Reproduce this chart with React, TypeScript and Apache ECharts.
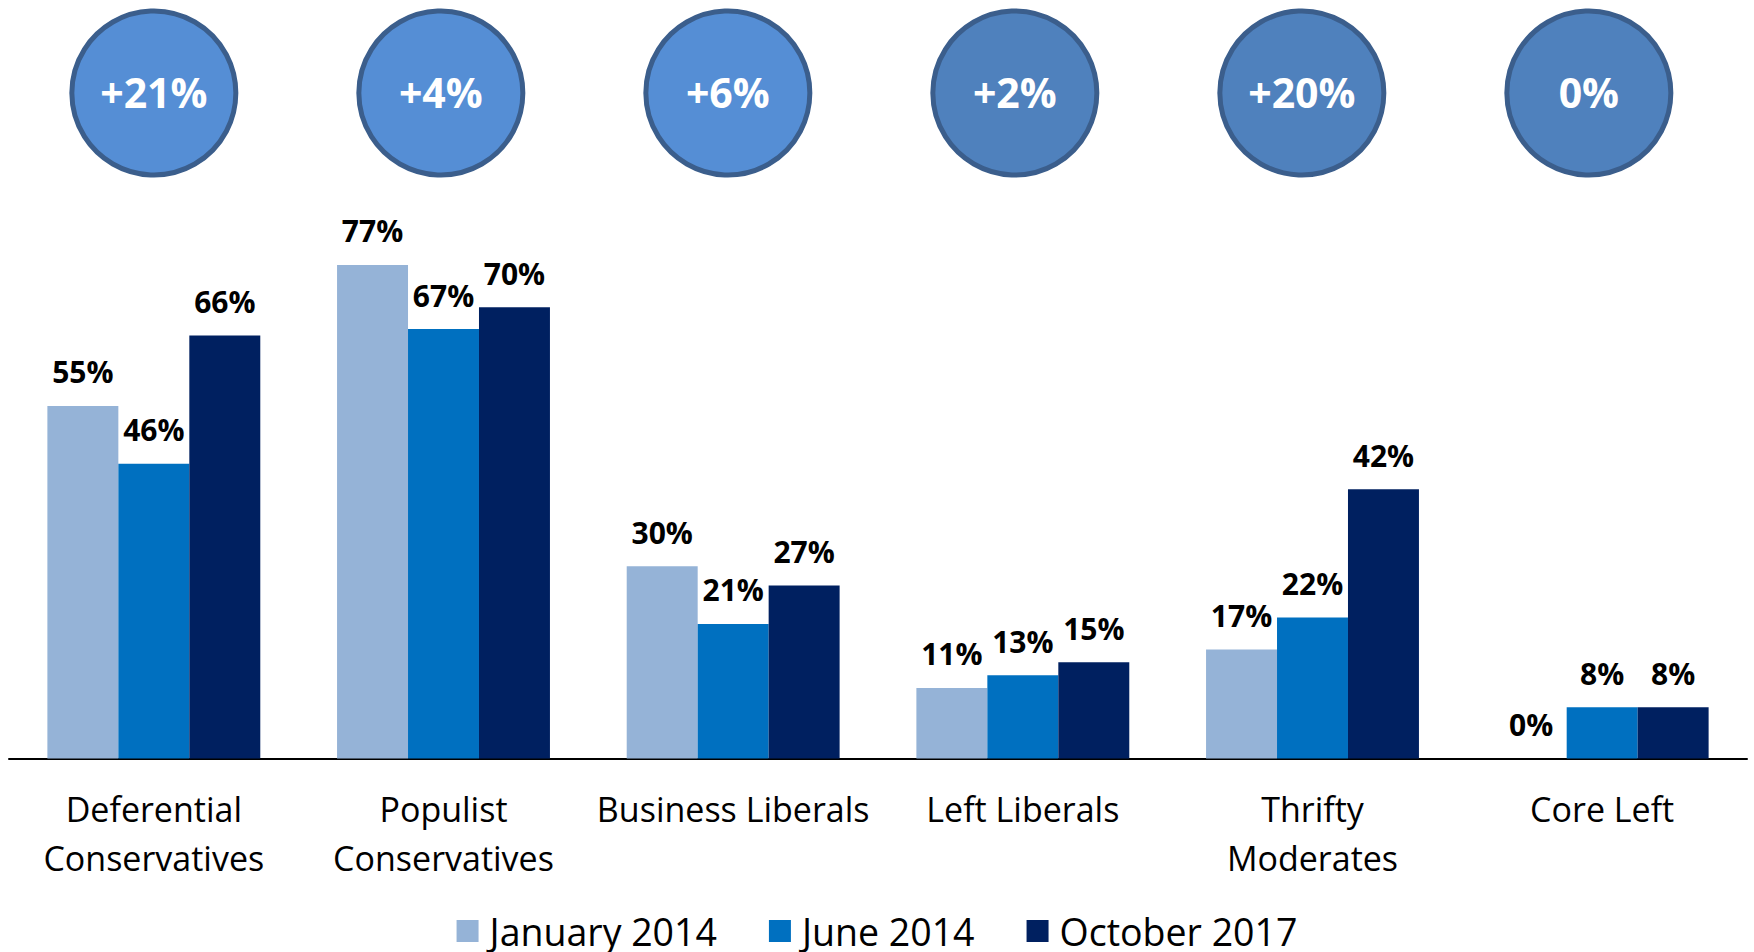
import React, { useEffect, useRef } from "react";
import * as echarts from "echarts";

const categories = [
  "Deferential\nConservatives",
  "Populist\nConservatives",
  "Business Liberals",
  "Left Liberals",
  "Thrifty\nModerates",
  "Core Left",
];
const seriesNames = ["January 2014", "June 2014", "October 2017"];
const jan2014 = [55, 77, 30, 11, 17, 0];
const jun2014 = [46, 67, 21, 13, 22, 8];
const oct2017 = [66, 70.4, 27, 15, 42, 8];
const changes = ["+21%", "+4%", "+6%", "+2%", "+20%", "0%"];
const seriesColors = ["#95B3D7", "#0070C0", "#002060"];
const circleFills = ["#558ED5", "#558ED5", "#558ED5", "#4F81BD", "#4F81BD", "#4F81BD"];

const FONT = "'Open Sans', 'DejaVu Sans', sans-serif";
const CIRCLE_SPACING = 287;

export default function App() {
  const ref = useRef<HTMLDivElement>(null);
  useEffect(() => {
    if (!ref.current) return;
    const chart = echarts.init(ref.current, undefined, { renderer: "svg" });
    const values = [jan2014, jun2014, oct2017];
    chart.setOption({
      animation: false,
      backgroundColor: "#ffffff",
      textStyle: { fontFamily: FONT },
      grid: { left: 9, right: 7, top: 117.5, bottom: 193.5, containLabel: false },
      legend: {
        data: seriesNames,
        left: "center",
        top: 905,
        itemWidth: 22,
        itemHeight: 22,
        itemGap: 52,
        icon: "rect",
        formatter: (name: string) => `{t|${name}}`,
        textStyle: {
          fontFamily: FONT,
          fontSize: 37.5,
          color: "#000",
          lineHeight: 42,
          rich: {
            t: { fontFamily: FONT, fontSize: 37.5, color: "#000", lineHeight: 42, padding: [0, 0, 0, 6] },
          },
        },
      },
      xAxis: {
        type: "category",
        data: categories,
        axisLine: { show: true, lineStyle: { color: "#000", width: 2 } },
        axisTick: { show: false },
        axisLabel: {
          interval: 0,
          margin: 26,
          fontFamily: FONT,
          fontSize: 34,
          lineHeight: 49,
          color: "#000",
          align: "center",
        },
      },
      yAxis: { type: "value", min: 0, max: 100, show: false, splitLine: { show: false } },
      series: values.map((v, i) => ({
        name: seriesNames[i],
        type: "bar",
        data: v,
        barGap: "0%",
        barCategoryGap: "26.5%",
        itemStyle: { color: seriesColors[i] },
        label: {
          show: true,
          position: "top",
          distance: 19,
          formatter: (p: any) => Math.round(p.value) + "%",
          fontFamily: FONT,
          fontSize: 30,
          fontWeight: "bold",
          lineHeight: 30,
          color: "#000",
        },
      })),
    });
    const graphics: any[] = [];
    const x0 = chart.convertToPixel({ xAxisIndex: 0 }, categories[0]) as number;
    categories.forEach((c, i) => {
      const x = x0 + i * CIRCLE_SPACING;
      graphics.push({
        type: "circle",
        shape: { cx: x, cy: 93, r: 82 },
        style: { fill: circleFills[i], stroke: "#3B5E8C", lineWidth: 5 },
        z: 10,
      });
      graphics.push({
        type: "text",
        x: x,
        y: 92,
        style: {
          text: changes[i],
          fill: "#ffffff",
          font: `bold 41px ${FONT}`,
          align: "center",
          verticalAlign: "middle",
        },
        z: 11,
      });
    });
    chart.setOption({ graphic: graphics });
    return () => chart.dispose();
  }, []);
  return (
    <div
      ref={ref}
      style={{ position: "fixed", left: 0, top: 0, width: 1754, height: 952, background: "#fff" }}
    />
  );
}
